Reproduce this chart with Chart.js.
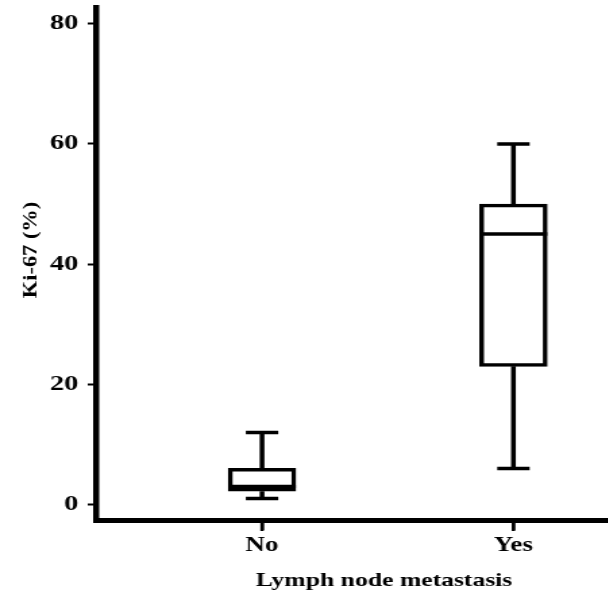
<!DOCTYPE html>
<html>
<head>
<meta charset="utf-8">
<script src="https://cdn.jsdelivr.net/npm/chart.js@4.4.1/dist/chart.umd.min.js"></script>
<style>
  html, body { margin: 0; padding: 0; overflow: hidden; background: #fff; }
  /* the reference picture is stretched sideways, so the whole chart is too */
  #wrap { width: 500px; height: 596px; transform: scaleX(1.35); transform-origin: 0 0; }
</style>
</head>
<body>
<div id="wrap"><canvas id="chart" width="500" height="596"></canvas></div>
<script>
// Box plot values
const categories = ['No', 'Yes'];
const whiskerMin = [1, 6];
const q1 = [2.2, 23];
const median = [3, 45];
const q3 = [6, 50];
const whiskerMax = [12, 60];
const yTickValues = [0, 20, 40, 60, 80];

const xTitle = 'Lymph node metastasis';
const yTitle = 'Ki-67 (%)';
const fontFamily = "'Liberation Serif', 'Times New Roman', serif";

// whiskers, medians, x tick marks and the y title are drawn here with the chart's scales
const boxPlugin = {
    id: 'boxWhiskers',
    beforeDatasetsDraw(chart) {
        const ctx = chart.ctx;
        const xs = chart.scales.x, ys = chart.scales.y;
        ctx.save();
        ctx.strokeStyle = '#000';
        ctx.lineWidth = 3.5;
        ctx.lineCap = 'butt';
        categories.forEach((c, i) => {
            const cx = xs.getPixelForValue(i + 1);
            const capHalf = 12;
            ctx.beginPath();
            ctx.moveTo(cx, ys.getPixelForValue(whiskerMax[i]));
            ctx.lineTo(cx, ys.getPixelForValue(q3[i]));
            ctx.moveTo(cx, ys.getPixelForValue(whiskerMin[i]));
            ctx.lineTo(cx, ys.getPixelForValue(q1[i]));
            ctx.moveTo(cx - capHalf, ys.getPixelForValue(whiskerMax[i]));
            ctx.lineTo(cx + capHalf, ys.getPixelForValue(whiskerMax[i]));
            ctx.moveTo(cx - capHalf, ys.getPixelForValue(whiskerMin[i]));
            ctx.lineTo(cx + capHalf, ys.getPixelForValue(whiskerMin[i]));
            ctx.stroke();
        });
        ctx.restore();
    },
    afterDatasetsDraw(chart) {
        const ctx = chart.ctx;
        const ys = chart.scales.y;
        const meta = chart.getDatasetMeta(0);
        ctx.save();
        ctx.strokeStyle = '#000';
        ctx.lineWidth = 3.5;
        meta.data.forEach((bar, i) => {
            const y = ys.getPixelForValue(median[i]);
            ctx.beginPath();
            ctx.moveTo(bar.x - bar.width / 2, y);
            ctx.lineTo(bar.x + bar.width / 2, y);
            ctx.stroke();
        });
        ctx.restore();
    },
    afterDraw(chart) {
        const ctx = chart.ctx;
        const xs = chart.scales.x;
        ctx.save();
        // small tick marks under the x axis
        ctx.strokeStyle = '#000';
        ctx.lineWidth = 2.5;
        categories.forEach((c, i) => {
            const tx = xs.getPixelForValue(i + 1);
            ctx.beginPath();
            ctx.moveTo(tx, xs.top + 2);
            ctx.lineTo(tx, xs.top + 11);
            ctx.stroke();
        });
        // y axis title
        ctx.translate(23, 250);
        ctx.rotate(-Math.PI / 2);
        ctx.scale(1.6, 1);
        ctx.font = 'bold 14px ' + fontFamily;
        ctx.fillStyle = '#000';
        ctx.textAlign = 'center';
        ctx.textBaseline = 'middle';
        ctx.fillText(yTitle, 0, 0);
        ctx.restore();
    }
};

const ctx = document.getElementById('chart').getContext('2d');
const chart = new Chart(ctx, {
    type: 'bar',
    data: {
        datasets: [{
            data: categories.map((c, i) => ({ x: i + 1, y: [q1[i], q3[i]] })),
            backgroundColor: '#fff',
            borderColor: '#000',
            borderWidth: 3.5,
            borderSkipped: false,
            barThickness: 50
        }]
    },
    options: {
        responsive: false,
        animation: false,
        devicePixelRatio: 1,
        layout: { padding: { top: 7, right: 2, left: 0, bottom: 0 } },
        plugins: {
            legend: { display: false },
            tooltip: { enabled: false }
        },
        scales: {
            x: {
                type: 'linear',
                offset: false,
                min: 0.339,
                max: 2.632,
                afterBuildTicks: s => { s.ticks = categories.map((c, i) => ({ value: i + 1 })); },
                afterFit: s => { s.height = 76; s.paddingLeft = 0; s.paddingRight = 0; },
                border: { color: '#000', width: 5 },
                grid: { offset: false, drawOnChartArea: false, tickLength: 10, tickWidth: 2, tickColor: '#000' },
                ticks: {
                    padding: 4,
                    color: '#000',
                    font: { family: fontFamily, size: 20, weight: 'bold' },
                    callback: v => categories[v - 1]
                },
                title: {
                    display: true,
                    text: xTitle,
                    color: '#000',
                    padding: { top: 0, bottom: 4 },
                    font: { family: fontFamily, size: 19, weight: 'bold' }
                }
            },
            y: {
                min: -2.58,
                max: 82.8,
                afterBuildTicks: s => { s.ticks = yTickValues.map(v => ({ value: v })); },
                afterFit: s => { s.width = 71; s.paddingTop = 0; s.paddingBottom = 0; },
                border: { color: '#000', width: 4.5 },
                grid: { drawOnChartArea: false, tickLength: 6, tickWidth: 2, tickColor: '#000' },
                ticks: {
                    padding: 7,
                    color: '#000',
                    font: { family: fontFamily, size: 21, weight: 'bold' }
                }
            }
        }
    },
    plugins: [boxPlugin]
});
</script>
</body>
</html>
